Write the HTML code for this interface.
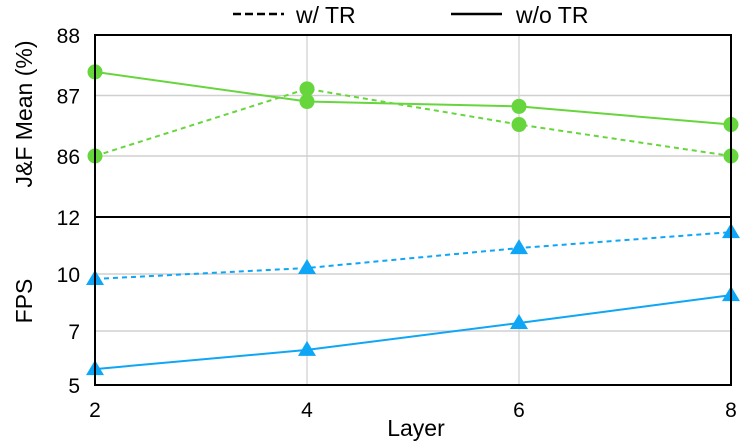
<!DOCTYPE html>
<html><head><meta charset="utf-8"><style>
body{margin:0;background:#fff;}
svg{display:block;font-family:"Liberation Sans",Arial,sans-serif;}
</style></head><body>
<svg id="chart" width="747" height="446" viewBox="0 0 747 446">
<g id="grid"></g>
<g id="series"></g>
<g id="axes"></g>
</svg>
<script>
const layers=[2,4,6,8];
const jfWithTR=[86.0,87.11,86.52,86.0];
const jfWithoutTR=[87.39,86.9,86.82,86.52];
const fpsWithTR=[9.74,10.21,10.91,11.47];
const fpsWithoutTR=[5.59,6.3,7.42,8.89];
const jfTicks=[86,87,88];
const fpsTicks=[5,7,10,12];
const NS='http://www.w3.org/2000/svg';
const L=95,R=731,T=35,M=217,B=385;
function x(v){return L+(v-2)/(8-2)*(R-L);}
function yJ(v){return 156-(v-86)*60.5;}
const fpsPos=[385,331,274,217];
function yF(v){for(let i=0;i<fpsTicks.length-1;i++){const a=fpsTicks[i],b=fpsTicks[i+1];if(v<=b||i===fpsTicks.length-2){return fpsPos[i]+(v-a)/(b-a)*(fpsPos[i+1]-fpsPos[i]);}}}
function el(tag,attrs,parent,text){const e=document.createElementNS(NS,tag);for(const k in attrs)e.setAttribute(k,attrs[k]);if(text!==undefined)e.textContent=text;parent.appendChild(e);return e;}
const grid=document.getElementById('grid'),ser=document.getElementById('series'),ax=document.getElementById('axes');
layers.forEach(v=>{const g=el('line',{x1:x(v),x2:x(v),y1:T,y2:B,stroke:'#d8d8d8','stroke-width':1.5},grid);


const t=el('text',{x:x(v),y:417,'font-size':21,'text-anchor':'middle',fill:'#000'},ax,String(v));

});
jfTicks.forEach(v=>{if(v<88){const g=el('line',{x1:L,x2:R,y1:yJ(v),y2:yJ(v),stroke:'#d0d0d0','stroke-width':1.5},grid);

}
const t=el('text',{x:80,y:yJ(v)+8,'font-size':21,'text-anchor':'end',fill:'#000'},ax,String(v));

});
fpsTicks.forEach(v=>{if(v!==5&&v!==12){const g=el('line',{x1:L,x2:R,y1:yF(v),y2:yF(v),stroke:'#d0d0d0','stroke-width':1.5},grid);

}
const t=el('text',{x:80,y:yF(v)+8,'font-size':21,'text-anchor':'end',fill:'#000'},ax,String(v));

});
function series(vals,yf,color,dash,marker,name){
const pts=vals.map((v,i)=>[x(layers[i]),yf(v)]);
const p=el('polyline',{points:pts.map(p=>p.join(',')).join(' '),fill:'none',stroke:color,'stroke-width':2,'stroke-dasharray':dash?'5,4':'none'},ser);


pts.forEach(([px,py])=>{let m;
if(marker==='circle')m=el('circle',{cx:px,cy:py,r:7.5,fill:color},ser);
else m=el('polygon',{points:`${px},${py-9} ${px-9},${py+6} ${px+9},${py+6}`,fill:color},ser);

});}
series(jfWithTR,yJ,'#66d63c',true,'circle','jf-with-tr');
series(jfWithoutTR,yJ,'#66d63c',false,'circle','jf-without-tr');
series(fpsWithTR,yF,'#0fa6f5',true,'tri','fps-with-tr');
series(fpsWithoutTR,yF,'#0fa6f5',false,'tri','fps-without-tr');
const box=el('rect',{x:L,y:T,width:R-L,height:B-T,fill:'none',stroke:'#000','stroke-width':2},ax);


const mid=el('line',{x1:L,x2:R,y1:M,y2:M,stroke:'#000','stroke-width':2},ax);


const yt1=el('text',{x:0,y:0,'font-size':23,'text-anchor':'middle',transform:'translate(32,114) rotate(-90)'},ax,'J&F Mean (%)');


const yt2=el('text',{x:0,y:0,'font-size':23,'text-anchor':'middle',transform:'translate(32,301) rotate(-90)'},ax,'FPS');


const xt=el('text',{x:416,y:436,'font-size':23,'text-anchor':'middle'},ax,'Layer');


const lg1=el('line',{x1:233,x2:284,y1:14,y2:14,stroke:'#000','stroke-width':2.5,'stroke-dasharray':'8,4'},ax);


const lt1=el('text',{x:296,y:23,'font-size':23},ax,'w/ TR');


const lg2=el('line',{x1:451,x2:502,y1:14,y2:14,stroke:'#000','stroke-width':2.5},ax);


const lt2=el('text',{x:516,y:23,'font-size':23},ax,'w/o TR');


</script>
</body></html>
